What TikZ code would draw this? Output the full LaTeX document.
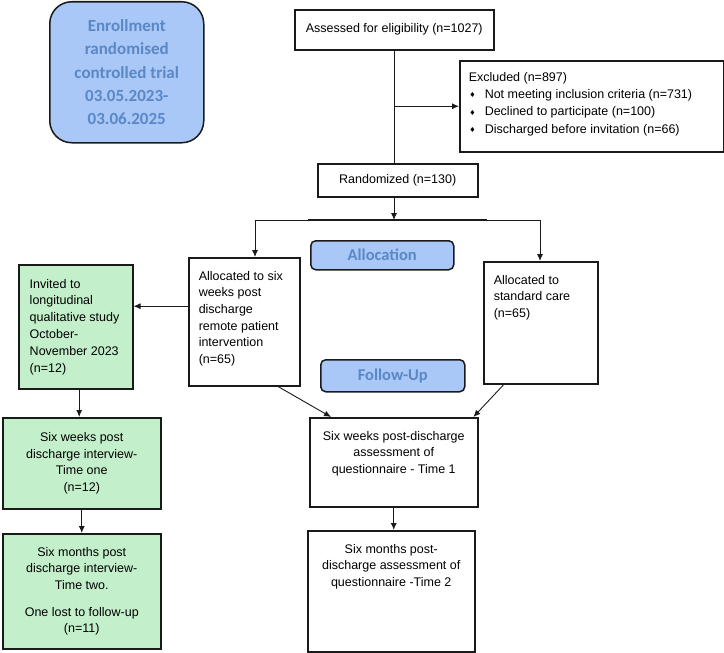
\documentclass[tikz,border=0pt]{standalone}
\usepackage{fontspec}
\setmainfont{Liberation Sans}
\newfontfamily\carl{Carlito}
\newfontfamily\dejavu{DejaVu Sans}
\usetikzlibrary{arrows.meta,calc}
\definecolor{bfill}{HTML}{A9C7F7}
\definecolor{btext}{HTML}{5A88C6}
\definecolor{gfill}{HTML}{C4EFCB}
\definecolor{edge}{HTML}{1A1A1A}
\newcommand{\tb}[5]{\begin{minipage}[t][#2pt][t]{#1pt}#4\rule{0pt}{#3pt}#5\end{minipage}}
\newcommand{\bul}{\makebox[16pt][l]{\hspace{0.5pt}\raisebox{0.5pt}{\dejavu\fontsize{7}{7}\selectfont ♦}}}
\tikzset{
  base/.style={draw=edge, line width=1.5pt, inner sep=0pt, anchor=north west,
    font=\fontsize{12.5}{16.7}\selectfont},
  wbox/.style={base, fill=white},
  gbox/.style={base, fill=gfill},
  lbl/.style={draw=edge, line width=1.5pt, fill=bfill, text=btext, rounded corners=5pt,
    anchor=north west, inner sep=0pt, font=\carl\bfseries\fontsize{16.5}{20}\selectfont},
  conn/.style={line width=0.9pt, draw=edge},
  arr/.style={conn, -{Latex[length=7pt,width=6pt]}},
}
\begin{document}
\begin{tikzpicture}[x=1pt,y=-1pt]
\useasboundingbox (0,0) rectangle (724,653);

% nodes
\node[lbl, rounded corners=22pt, minimum width=154pt, minimum height=141pt, align=center,
  font=\carl\bfseries\fontsize{17}{23.2}\selectfont] (enroll) at (49,1)
  {Enrollment\\randomised\\controlled trial\\03.05.2023-\\03.06.2025};

\node[wbox, minimum width=199pt, minimum height=40pt] (assess) at (294,9)
  {Assessed for eligibility (n=1027)};

\node[wbox, inner xsep=9pt, font=\fontsize{12.5}{17.3}\selectfont] (excl) at (459,60)
  {\tb{246}{91}{20.4}{\raggedright}{Excluded (n=897)\\\bul Not meeting inclusion criteria (n=731)\\\bul Declined to participate (n=100)\\\bul Discharged before invitation (n=66)}};

\node[wbox, minimum width=160pt, minimum height=33pt] (rand) at (317,163)
  {Randomized (n=130)};

\node[lbl, minimum width=143pt, minimum height=29pt] (alloc) at (310,240) {Allocation};

\node[wbox, inner xsep=10pt] (allocL) at (188,257)
  {\tb{91}{128}{22.4}{\raggedright}{Allocated to six\\weeks post\\discharge\\remote patient\\intervention\\(n=65)}};

\node[wbox, inner xsep=10pt] (allocR) at (483,261)
  {\tb{94}{122}{22.4}{\raggedright}{Allocated to\\standard care\\(n=65)}};

\node[lbl, minimum width=144pt, minimum height=32pt] (follow) at (320,359) {Follow-Up};

\node[gbox, inner xsep=11pt, font=\fontsize{12.5}{16.8}\selectfont] (green1) at (18,264)
  {\tb{92}{124}{23.4}{\raggedright}{Invited to\\longitudinal\\qualitative study\\October-\\November 2023\\(n=12)}};

\node[gbox, minimum width=158pt, minimum height=91pt, align=center] (green2) at (2,417)
  {Six weeks post\\discharge interview-\\Time one\\(n=12)};

\node[gbox, minimum width=158pt, minimum height=115pt, align=center] (green3) at (2,533)
  {Six months post\\discharge interview-\\Time two.\\[10pt]One lost to follow-up\\(n=11)};

\node[wbox, inner xsep=8pt] (sixw) at (309,417)
  {\tb{152}{89}{22.4}{\centering}{Six weeks post-discharge\\assessment of\\questionnaire - Time 1}};

\node[wbox, inner xsep=8pt] (sixm) at (307,530)
  {\tb{151}{121}{22.4}{\centering}{Six months post-\\discharge assessment of\\questionnaire -Time 2}};

% connectors
\draw[conn] (assess.south) -- (assess.south |- rand.north);
\coordinate (b1) at (assess.south |- excl.west);
\draw[arr] (b1) -- (excl.west);

\coordinate (split) at (394,220);
\coordinate (jL) at (255,220);
\coordinate (jR) at (540,220);
\coordinate (t1) at (308,220);
\coordinate (t2) at (487,220);
\draw[conn] (jL) -- (jR);
\draw[conn, line width=1.6pt] (t1) -- (t2);
\draw[arr] (rand.south -| split) -- (split);
\draw[arr] (jL) -- (jL |- allocL.north);
\draw[arr] (jR) -- (jR |- allocR.north);

\coordinate (ga) at ($(allocL.north west)!0.38!(allocL.south west)$);
\draw[arr] (ga) -- (ga -| green1.east);

\coordinate (g1s) at ($(green1.south west)!0.53!(green1.south east)$);
\draw[arr] (g1s) -- (g1s |- green2.north);
\draw[arr] (green2.south) -- (green3.north);

\coordinate (aLs) at ($(allocL.south west)!0.8!(allocL.south east)$);
\coordinate (swL) at ($(sixw.north west)!0.13!(sixw.north east)$);
\draw[arr] (aLs) -- (swL);
\coordinate (aRs) at ($(allocR.south west)!0.18!(allocR.south east)$);
\coordinate (swR) at ($(sixw.north west)!0.97!(sixw.north east)$);
\draw[arr] (aRs) -- (swR);
\draw[arr] (sixw.south) -- (sixw.south |- sixm.north);
\end{tikzpicture}
\end{document}
